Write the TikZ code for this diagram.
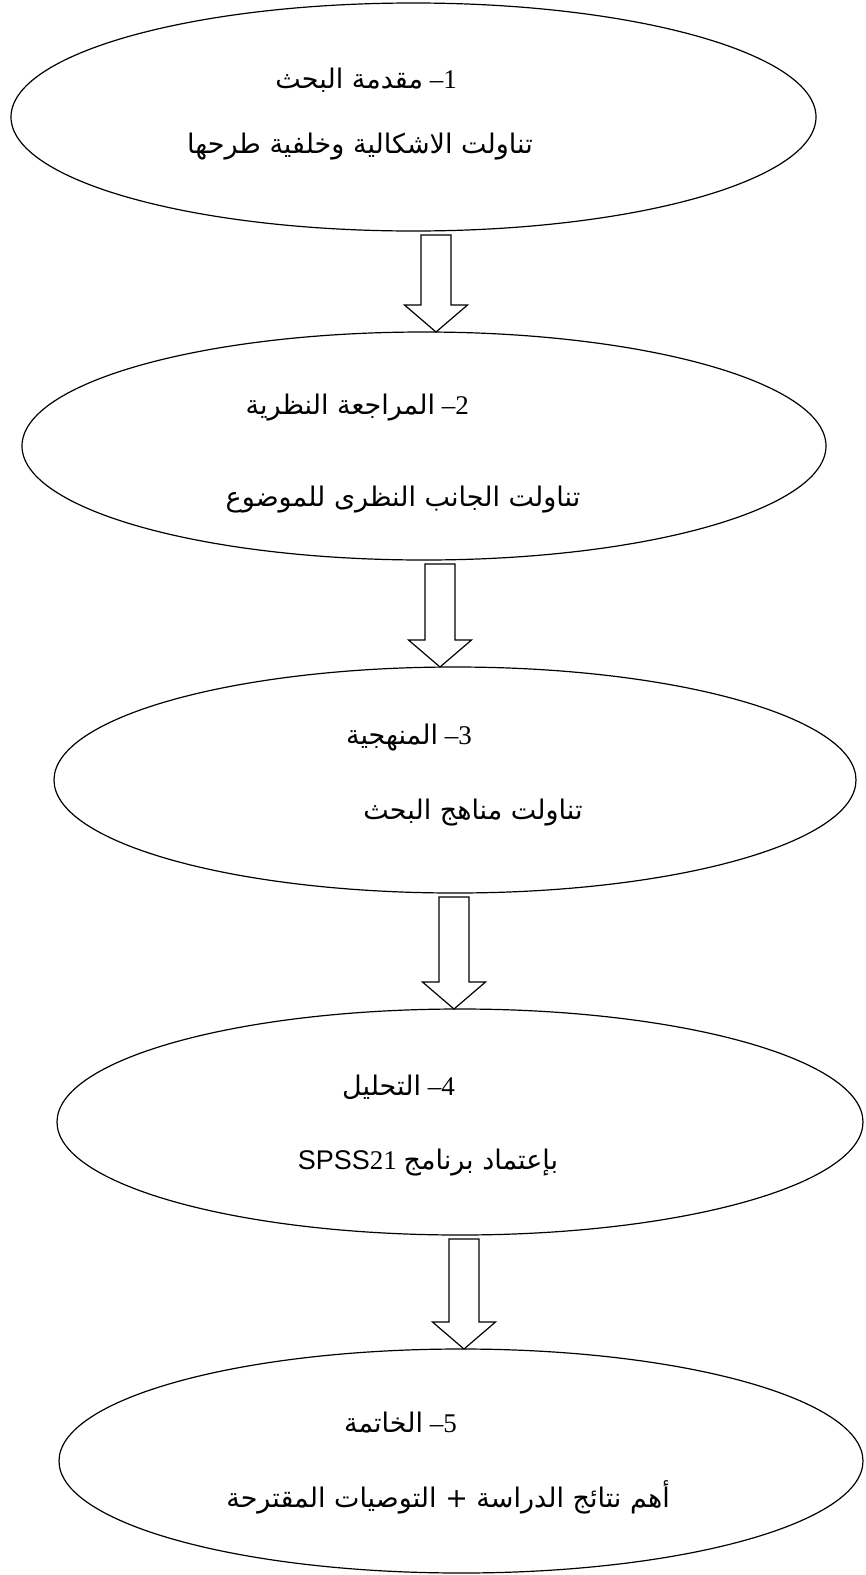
\documentclass[tikz,border=0pt]{standalone}
\usepackage{fontspec}
\setmainfont{Liberation Serif}
\newfontfamily\arabicfont[Script=Arabic]{DejaVu Sans}
\newfontfamily\latinsans{Liberation Sans}
\TeXXeTstate=1
\usetikzlibrary{shapes.geometric,calc}
\newcommand\ar[1]{{\fontsize{27}{32}\arabicfont\beginR #1\endR}}
\newcommand\flowarrow[3]{%
  \path (#1,0) coordinate (ax);
  \draw[blockarrow] let \p1=(ax |- #2.south), \p2=(ax |- #3.north) in
    (\x1-15,\y1-4) -- (\x1+15,\y1-4) -- (\x1+15,\y2+27) -- (\x1+31.5,\y2+27)
    -- (\x2,\y2) -- (\x1-31.5,\y2+27) -- (\x1-15,\y2+27) -- cycle;}
\begin{document}
\begin{tikzpicture}[x=1pt,y=-1pt,
  oval/.style={ellipse,draw,line width=1.2pt,inner sep=0pt,outer sep=0pt},
  lbl/.style={inner sep=0pt,font=\fontsize{27}{32}\selectfont},
  head/.style={lbl,anchor=east},
  blockarrow/.style={draw,line width=1.2pt,fill=white,line join=miter}]
\useasboundingbox (0,0) rectangle (866,1575);
\fill[white] (0,0) rectangle (866,1575);
\node[oval,minimum width=805pt,minimum height=228pt] (e1) at (413.5,117) {};
\node[oval,minimum width=804pt,minimum height=228pt] (e2) at (424,446) {};
\node[oval,minimum width=802pt,minimum height=226pt] (e3) at (455,780) {};
\node[oval,minimum width=806pt,minimum height=226pt] (e4) at (460,1122) {};
\node[oval,minimum width=804pt,minimum height=224pt] (e5) at (461,1461) {};
\flowarrow{436}{e1}{e2}
\flowarrow{440}{e2}{e3}
\flowarrow{454}{e3}{e4}
\flowarrow{464}{e4}{e5}
\node[head] (t1a) at (457,80) {\ar{مقدمة البحث} –1};
\node[lbl] (t1b) at (360,147) {\ar{تناولت الاشكالية وخلفية طرحها}};
\node[head] (t2a) at (469,408) {\ar{المراجعة النظرية} –2};
\node[lbl] (t2b) at (403,500) {\ar{تناولت الجانب النظرى للموضوع}};
\node[head] (t3a) at (472,738) {\ar{المنهجية} –3};
\node[lbl] (t3b) at (473,813) {\ar{تناولت مناهج البحث}};
\node[head] (t4a) at (455,1087) {\ar{التحليل} –4};
\node[lbl] (t4b) at (428,1163) {{\latinsans SPSS}21 \ar{بإعتماد برنامج}};
\node[head] (t5a) at (457,1423) {\ar{الخاتمة} –5};
\node[lbl] (t5b) at (448,1497) {\ar{أهم نتائج الدراسة + التوصيات المقترحة}};
\end{tikzpicture}
\end{document}
